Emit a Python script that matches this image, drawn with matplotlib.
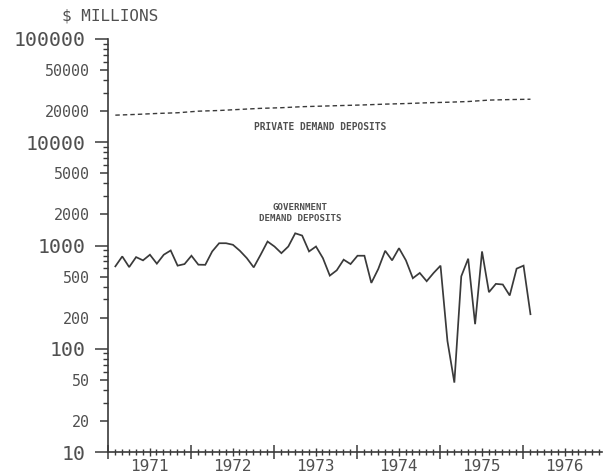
import numpy as np
import matplotlib
matplotlib.use("Agg")
import matplotlib.pyplot as plt
from matplotlib.ticker import FixedLocator, FuncFormatter, NullFormatter

# ---------------- data ----------------
# Government demand deposits, monthly, Feb 1971 .. Feb 1976 ($ millions)
gov_values = [628, 784, 618, 772, 718, 814, 667, 814, 895, 638, 661, 796,
              652, 650, 876, 1052, 1052, 1016, 889, 755, 614, 814, 1093, 978,
              843, 978, 1313, 1248, 876, 978, 755, 511, 575, 729, 661, 796,
              796, 434, 592, 889, 718, 942, 718, 482, 542, 451, 542, 638,
              119, 47, 503, 745, 173, 876, 353, 425, 419, 328, 597, 638,
              216]
gov_start_year, gov_start_month = 1971, 2

# Private demand deposits, quarterly readings, Feb 1971 .. Feb 1976 ($ millions)
priv_values = [18300, 18600, 19000, 19300, 20000, 20300, 20800, 21300, 21600,
               22100, 22400, 22700, 23000, 23400, 23700, 24100, 24400, 24800,
               25600, 25900, 26100]
priv_start_year, priv_start_month, priv_step_months = 1971, 2, 3

year_labels = ["1971", "1972", "1973", "1974", "1975", "1976"]
ytick_major = [10, 100, 1000, 10000, 100000]
ytick_labeled_minor = [20, 50, 200, 500, 2000, 5000, 20000, 50000]

# ---------------- helpers ----------------
def month_to_year(y, m):
    return y + (m - 1) / 12.0 + 0.005

gov_x = [month_to_year(gov_start_year + (gov_start_month - 1 + i) // 12,
                       (gov_start_month - 1 + i) % 12 + 1)
         for i in range(len(gov_values))]
priv_x = [month_to_year(priv_start_year + (priv_start_month - 1 + priv_step_months * i) // 12,
                        (priv_start_month - 1 + priv_step_months * i) % 12 + 1)
          for i in range(len(priv_values))]

ink = "#3a3a3a"
txt = "#505050"
mono = ["DejaVu Sans Mono"]

fig = plt.figure(figsize=(6.06, 4.75), dpi=100)
ax = fig.add_axes([108 / 606, 23 / 475, (602 - 108) / 606, (452 - 39) / 475])

ax.set_yscale("log")
ax.set_ylim(10, 100000)
first_year = int(year_labels[0])
last_year = int(year_labels[-1])
ax.set_xlim(first_year, last_year + 0.95)

ax.plot(gov_x, gov_values, color=ink, lw=1.25, solid_joinstyle="miter")
ax.plot(priv_x, priv_values, color=ink, lw=1.0, linestyle=(0, (3.2, 2.2)))

for s in ["top", "right"]:
    ax.spines[s].set_visible(False)
for s in ["left", "bottom"]:
    ax.spines[s].set_color(ink)
    ax.spines[s].set_linewidth(1.2)

# y ticks: decades (big labels), 2 & 5 (small labels)
ax.yaxis.set_major_locator(FixedLocator(ytick_major))
ax.yaxis.set_major_formatter(FuncFormatter(lambda v, p: f"{v:.0f}"))
ax.yaxis.set_minor_locator(FixedLocator(ytick_labeled_minor))
ax.yaxis.set_minor_formatter(FuncFormatter(lambda v, p: f"{v:.0f}"))
ax.tick_params(axis="y", which="major", length=9.4, width=1.1, color=ink,
               pad=7, labelsize=14.3, labelcolor=txt)
ax.tick_params(axis="y", which="minor", length=5.8, width=1.1, color=ink,
               pad=7, labelsize=10.8, labelcolor=txt)
for lab in ax.get_yticklabels(which="both"):
    lab.set_family(mono)

# x ticks: years (long), months (short)
ax.xaxis.set_major_locator(FixedLocator(list(range(first_year, last_year + 1))))
ax.xaxis.set_major_formatter(NullFormatter())
months = [first_year + k / 12.0 for k in range((last_year - first_year + 1) * 12)
          if k % 12 not in (0, 6)]
ax.xaxis.set_minor_locator(FixedLocator(months))
ax.xaxis.set_minor_formatter(NullFormatter())
ax.tick_params(axis="x", which="major", direction="inout", length=9.4, width=1.1, color=ink)
ax.tick_params(axis="x", which="minor", direction="inout", length=4.6, width=1.0, color=ink)

# extra short y ticks (3,4,6,7,8,9 per decade)
ax2 = ax.twinx()
ax2.set_yscale("log")
ax2.set_ylim(ax.get_ylim())
ax2.yaxis.set_ticks_position("left")
for s in ax2.spines.values():
    s.set_visible(False)
short = [m * 10 ** e for e in range(1, 5) for m in (3, 4, 6, 7, 8, 9)]
ax2.yaxis.set_major_locator(FixedLocator([]))
ax2.yaxis.set_minor_locator(FixedLocator(short))
ax2.yaxis.set_minor_formatter(NullFormatter())
ax2.tick_params(axis="y", which="minor", length=3.6, width=1.0, color=ink)

# mid-year ticks with year labels
ax3 = ax.twiny()
ax3.set_xlim(ax.get_xlim())
ax3.xaxis.set_ticks_position("bottom")
for s in ax3.spines.values():
    s.set_visible(False)
ax3.xaxis.set_major_locator(FixedLocator([int(y) + 0.5 for y in year_labels]))
ax3.set_xticklabels(year_labels)
ax3.xaxis.set_minor_locator(FixedLocator([]))
ax3.tick_params(axis="x", which="major", direction="inout", length=5.4, width=1.0,
                color=ink, pad=2.5, labelsize=11.5, labelcolor=txt)
for lab in ax3.get_xticklabels():
    lab.set_family(mono)

# annotations
ax.text(1973.556, 13970, "PRIVATE DEMAND DEPOSITS", ha="center", va="center",
        fontsize=6.9, fontweight="bold", family=mono, color=txt)
ax.text(1973.315, 2050, "GOVERNMENT\nDEMAND DEPOSITS", ha="center", va="center",
        fontsize=6.6, fontweight="bold", family=mono, color=txt, linespacing=1.25)
fig.text(110 / 606, 1 - 16 / 475, "$ MILLIONS", ha="center", va="center",
         fontsize=11.5, family=mono, color=txt)

fig.savefig("out.png", dpi=100, facecolor="white")
